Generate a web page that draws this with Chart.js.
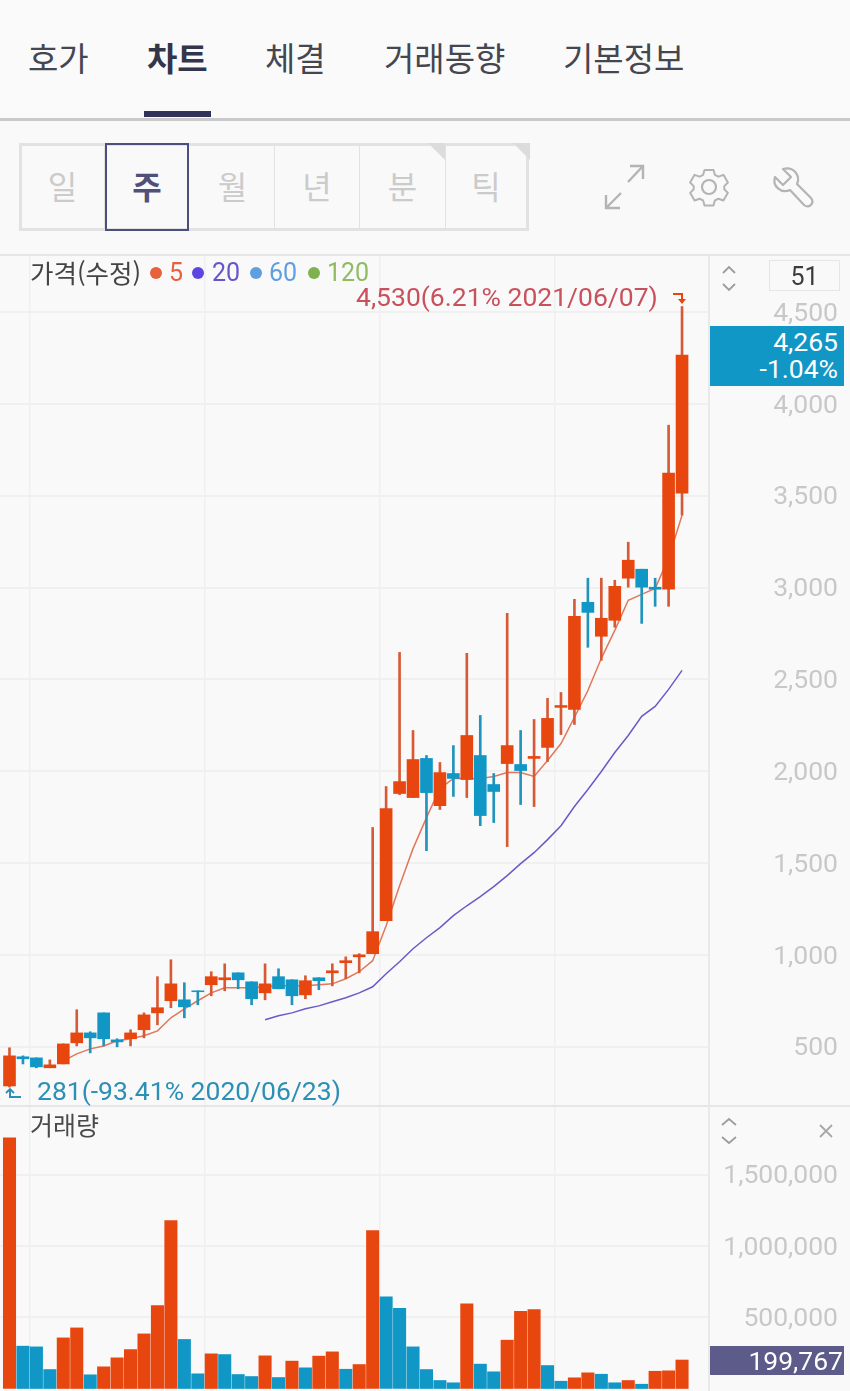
<!DOCTYPE html>
<html lang="ko"><head><meta charset="utf-8">
<script src="https://cdn.jsdelivr.net/npm/chart.js@4"></script>
<style>
html,body{margin:0;padding:0;background:#f9f9f9;}
body{width:850px;height:1391px;position:relative;overflow:hidden;font-family:Roboto,"Noto Sans CJK KR",sans-serif;}
.a{position:absolute;white-space:nowrap;}
.tab{font:400 33px/40px "Noto Sans CJK KR";color:#444650;top:37px;}
.btn{position:absolute;top:144px;height:84px;text-align:center;font:400 32px/82px "Noto Sans CJK KR";color:#cbcbcb;border-right:1.5px solid #e2e2e2;box-sizing:border-box;}
canvas{position:absolute;left:0;}
</style></head><body>
<div class="a" style="left:0;top:0;width:850px;height:118px;background:#fafafa"></div>
<div class="a tab" style="left:28px">호가</div>
<div class="a tab" style="left:147px;font-weight:700;color:#33354a">차트</div>
<div class="a tab" style="left:265px">체결</div>
<div class="a tab" style="left:384px">거래동향</div>
<div class="a tab" style="left:563px">기본정보</div>
<div class="a" style="left:144px;top:111px;width:67px;height:6px;background:#2f3158"></div>
<div class="a" style="left:0;top:117.5px;width:850px;height:3px;background:#c9c9cb"></div>

<div class="a" style="left:19px;top:143px;width:510px;height:88px;box-sizing:border-box;border:3px solid #e2e2e2"></div>
<div class="btn" style="left:21px;width:84px;">일</div>
<div class="btn" style="left:191px;width:84px">월</div>
<div class="btn" style="left:275px;width:85px">년</div>
<div class="btn" style="left:360px;width:86px">분</div>
<div class="btn" style="left:446px;width:80px;border-right:0">틱</div>
<div class="a" style="left:105px;top:143px;width:84px;height:88px;box-sizing:border-box;border:2px solid #4a4f7d;text-align:center;font:700 32px/80px 'Noto Sans CJK KR';color:#4f5178">주</div>
<svg class="a" style="left:0;top:130px" width="850" height="110" fill="none">
 <path d="M428 13h17v17zM513 13h17v17z" fill="#dcdcdc"/>
 <g stroke="#b4b4b4" stroke-width="2.4">
  <path d="M628 52L643 36M630 36h13v13"/>
  <path d="M621 63L606 78M606 65v13h14"/>
 </g>
 <g stroke="#b4b4b4" stroke-width="2.2" stroke-linejoin="round">
  <circle cx="709" cy="57" r="7"/>
  <path transform="translate(709 57) scale(.9) translate(-709 -57)" d="M704 38h10l1.500 5.500 4 2 5.500-2 5 8.500-4 4v3.500l4 4-5 8.500-5.500-2-4 2-1.500 5.500h-10l-1.500-5.500-4-2-5.500 2-5-8.500 4-4v-3.500l-4-4 5-8.500 5.500 2 4-2z"/>
  <path d="M783 39C793 36 801 45 797 54L811 68C815 73 809 79 804 75L790 60C781 64 772 56 775 47L783 55L791 47Z"/>
 </g>
</svg>
<div class="a" style="left:0;top:254px;width:850px;height:2px;background:#e6e6e6"></div>

<canvas id="priceChart" width="850" height="850" style="top:256px;width:850px;height:850px"></canvas>
<canvas id="volumeChart" width="850" height="285" style="top:1106px;width:850px;height:285px"></canvas>

<div class="a" style="left:0;top:1105px;width:850px;height:2px;background:#e6e6e6"></div>
<div class="a" style="left:708px;top:256px;width:2px;height:1135px;background:#e9e9e9"></div>

<div class="a" style="left:30px;top:257px;font:400 25.500px/30px 'Noto Sans CJK KR';color:#444">가격(수정)</div>
<div class="a" style="left:150px;top:267px;width:12px;height:12px;border-radius:50%;background:#e8603c"></div>
<div class="a" style="left:169px;top:258px;font:400 25px/30px Roboto;color:#e8603c">5</div>
<div class="a" style="left:192px;top:267px;width:12px;height:12px;border-radius:50%;background:#5f45e0"></div>
<div class="a" style="left:212px;top:258px;font:400 25px/30px Roboto;color:#6a55c8">20</div>
<div class="a" style="left:250px;top:267px;width:12px;height:12px;border-radius:50%;background:#5f9fe0"></div>
<div class="a" style="left:269px;top:258px;font:400 25px/30px Roboto;color:#5f9fe0">60</div>
<div class="a" style="left:308px;top:267px;width:12px;height:12px;border-radius:50%;background:#7fb24f"></div>
<div class="a" style="left:327px;top:258px;font:400 25px/30px Roboto;color:#8fbb63">120</div>

<div class="a" id="hiNote" style="left:356px;top:282px;font:400 26.500px/30px Roboto;color:#c9515c">4,530(6.21% 2021/06/07)</div>
<div class="a" id="loNote" style="left:37px;top:1076px;font:400 26.500px/30px Roboto;color:#2c8fb5">281(-93.41% 2020/06/23)</div>
<svg class="a" style="left:0;top:0" width="850" height="1391" fill="none">
 <path d="M673 294h9v6" stroke="#e8460f" stroke-width="2"/><path d="M678 299h8l-4 5z" fill="#e8460f"/>
 <path d="M21 1097h-11v-7" stroke="#2c8fb5" stroke-width="2"/><path d="M6 1093l4-4 4 4" stroke="#2c8fb5" stroke-width="1.800"/>
 <g stroke="#9d9d9d" stroke-width="1.800">
  <path d="M723 273l6-6 6 6M723 284l6 6 6-6"/>
  <path d="M722 1125l7-6 7 6M722 1137l7 6 7-6"/>
  <path d="M820 1125l12 12M832 1125l-12 12" stroke="#a8a8a8"/>
 </g>
</svg>
<div class="a" style="left:769px;top:260px;width:71px;height:31px;box-sizing:border-box;border:1.500px solid #e6e6e6;text-align:center;font:400 25px/31px Roboto;color:#3c3c3c">51</div>
<div class="a" style="left:710px;top:326px;width:134px;height:60px;background:#1097c6;color:#fff;text-align:right;font:400 26.500px/27px Roboto;padding:2px 6px 0 0;box-sizing:border-box">4,265<br>-1.04%</div>
<div class="a" style="left:30px;top:1108px;font:400 25px/32px 'Noto Sans CJK KR';color:#4a4a4a">거래량</div>
<div class="a" style="left:710px;top:1346px;width:134px;height:29px;background:#5c5b8a;color:#fff;text-align:right;font:400 26.500px/29px Roboto;padding-right:1px;box-sizing:border-box">199,767</div>

<script>
const weeks = Array.from({length:51},(_, i)=>i);
const open = [287,446,440,386,407,522,576,685,538,544,593,685,751,756,805,838,865,903,854,794,882,865,783,876,903,958,990,1007,1187,1879,1857,2070,1813,1988,1955,2086,1928,2042,2037,2070,2130,2348,2337,2920,2735,2822,3051,3100,3002,2991,3514];
const high = [495,451,440,429,516,702,582,685,544,593,685,882,974,849,805,909,952,903,854,952,925,865,887,876,952,990,1007,1694,1917,2647,2222,2086,2048,2140,2642,2304,1988,2860,2222,2282,2397,2429,2936,3051,3051,3040,3247,3100,3051,3884,4530];
const low = [281,407,386,386,407,505,467,505,500,505,549,620,713,658,729,778,805,816,729,756,816,729,762,811,832,871,903,1007,1187,1873,1857,1568,1792,1863,1857,1704,1721,1590,1819,1808,2053,2200,2255,2675,2604,2784,3002,2805,2898,2898,3394];
const close = [451,435,391,402,516,576,549,544,527,576,674,713,843,718,800,882,876,865,762,843,816,778,860,860,914,969,1001,1127,1797,1944,2064,1884,1993,1961,2195,1759,1890,2140,2004,2081,2288,2358,2844,2865,2833,3007,3149,3002,2991,3623,4265];
const ma5 = [null,null,null,null,424,462,489,505,533,544,560,587,658,707,751,794,822,822,822,827,832,832,832,838,843,871,909,969,1159,1377,1579,1748,1906,1961,1961,1961,1972,1993,1993,1972,2059,2151,2293,2440,2615,2767,2931,2963,2996,3160,3394];
const ma20 = [null,null,null,null,null,null,null,null,null,null,null,null,null,null,null,null,null,null,null,647,669,685,707,723,745,767,794,827,898,963,1034,1094,1149,1214,1268,1318,1372,1432,1497,1557,1628,1704,1808,1901,1999,2102,2195,2299,2353,2446,2549];
const volume = [1757000,297000,292000,133000,355000,425000,96000,152000,215000,273000,383000,582000,1178000,344000,103000,243000,238000,98000,84000,229000,77000,192000,145000,227000,257000,135000,168000,1108000,643000,563000,292000,133000,56000,40000,594000,171000,117000,339000,542000,554000,161000,51000,75000,110000,100000,40000,56000,30000,121000,124000,199767];
const volumeUp = [1,0,0,0,1,1,0,1,1,1,1,1,1,0,0,1,0,0,0,1,0,1,0,1,1,0,1,1,0,0,0,0,0,0,1,0,0,1,1,1,0,0,1,1,0,0,1,0,1,1,1];
const priceTicks = [500,1000,1500,2000,2500,3000,3500,4000,4500];
const volumeTicks = [500000,1000000,1500000];
const xGridSlots = [1.5,14.5,27.5,40.5];

const RED='#e8460f', BLUE='#1097c6', WICK_RED='#d65a35', WICK_BLUE='#2293ba';
const fmt = v => Number(v).toLocaleString('en-US');
Chart.defaults.animation = false;
Chart.defaults.font.family = 'Roboto';

function flat(s){ s.paddingTop=0; s.paddingBottom=0; s.paddingLeft=0; s.paddingRight=0; }
function xScale(){ return {
  type:'linear', min:-0.706, max:51.93, offset:false,
  grid:{color:'#efefef', lineWidth:1.5, offset:false, drawTicks:false},
  border:{display:false}, ticks:{display:false},
  afterBuildTicks(s){ s.ticks = xGridSlots.map(v=>({value:v})); },
  afterFit(s){ s.height = 0; flat(s); }
};}
function yScale(min,max,vals){ return {
  position:'right', min, max,
  grid:{color:'#f0f0f0', lineWidth:2, drawTicks:false},
  border:{display:false},
  ticks:{color:'#c8c8c8', font:{size:26.5}, padding:12, crossAlign:'far', labelOffset:2, autoSkip:false, callback:fmt},
  afterBuildTicks(s){ s.ticks = vals.map(v=>({value:v})); },
  afterFit(s){ s.width = 130; flat(s); }
};}
const plugins = {legend:{display:false}, tooltip:{enabled:false}, title:{display:false}};
const layout = {padding:{left:0,top:0,bottom:0,right:12}};

new Chart(document.getElementById('priceChart'),{
  type:'bar',
  data:{datasets:[
    {label:'body',order:0,grouped:false,barThickness:12,
     data:weeks.map(i=>({x:i,y:[open[i],close[i]]})),
     backgroundColor:weeks.map(i=>close[i]>=open[i]?RED:BLUE)},
    {label:'wick',order:1,grouped:false,barThickness:2,
     data:weeks.map(i=>({x:i,y:[low[i],high[i]]})),
     backgroundColor:weeks.map(i=>close[i]>=open[i]?WICK_RED:WICK_BLUE)},
    {type:'line',label:'5',order:2,borderColor:'#e2775a',borderWidth:1.5,pointRadius:0,tension:0,
     data:weeks.filter(i=>ma5[i]!==null).map(i=>({x:i,y:ma5[i]}))},
    {type:'line',label:'20',order:3,borderColor:'#6a5ac8',borderWidth:1.5,pointRadius:0,tension:0,
     data:weeks.filter(i=>ma20[i]!==null).map(i=>({x:i,y:ma20[i]}))}
  ]},
  options:{responsive:false,devicePixelRatio:1,layout,plugins,
    scales:{x:xScale(),y:yScale(178,4805,priceTicks)}}
});

new Chart(document.getElementById('volumeChart'),{
  type:'bar',
  data:{datasets:[
    {label:'거래량',barThickness:12.4,
     data:weeks.map(i=>({x:i,y:volume[i]})),
     backgroundColor:weeks.map(i=>volumeUp[i]?RED:BLUE)}
  ]},
  options:{responsive:false,devicePixelRatio:1,layout,plugins,
    scales:{x:xScale(),y:yScale(-17500,1981000,volumeTicks)}}
});
</script>
</body></html>
